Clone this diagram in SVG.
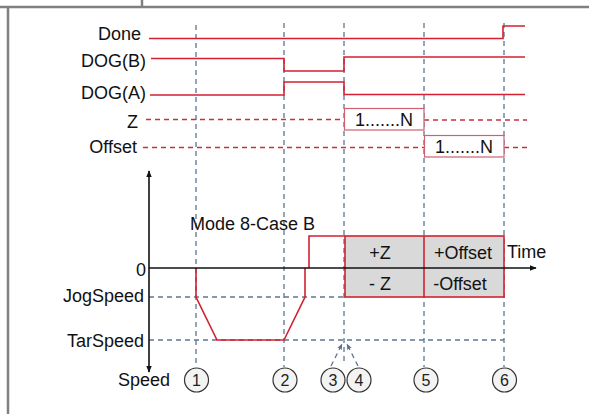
<svg xmlns="http://www.w3.org/2000/svg" width="589" height="414" viewBox="0 0 589 414">
<defs>
<style>
.lbl{font-family:"Liberation Sans",Arial,sans-serif;font-size:18px;fill:#111}
.num{font-family:"Liberation Sans",Arial,sans-serif;font-size:16px;fill:#222;text-anchor:middle}
.frame{stroke:#808080;stroke-width:2.5;fill:none}
.grid{stroke:#5f7590;stroke-width:1.3;stroke-dasharray:5 4;fill:none}
.sig{stroke:#d42030;stroke-width:1.6;fill:none}
.sigd{stroke:#c8303a;stroke-width:1.4;stroke-dasharray:5 4;fill:none}
.ax{stroke:#111;stroke-width:1.6;fill:none}
.circ{fill:#f3f3f3;stroke:#333;stroke-width:1.2}
.nbox{fill:#fff;stroke:#d06070;stroke-width:1.2}
</style>
<marker id="ah" viewBox="0 0 10 10" refX="9" refY="5" markerWidth="7" markerHeight="7" orient="auto-start-reverse" markerUnits="userSpaceOnUse">
<path d="M0,1 L10,5 L0,9 Z" fill="#111"/>
</marker>
<marker id="ahg" viewBox="0 0 10 10" refX="9" refY="5" markerWidth="6" markerHeight="6" orient="auto" markerUnits="userSpaceOnUse">
<path d="M0,1 L10,5 L0,9 Z" fill="#5f7590"/>
</marker>
</defs>
<rect width="589" height="414" fill="#fff"/>
<g id="frame">
<line class="frame" x1="0" y1="7" x2="589" y2="7"/>
<line class="frame" x1="142" y1="0" x2="142" y2="7"/>
<line class="frame" x1="8" y1="8" x2="8" y2="414"/>
</g>
<g id="connectors">
<line class="grid" x1="196" y1="25" x2="196" y2="367"/>
<line class="grid" x1="284" y1="23" x2="284" y2="367"/>
<line class="grid" x1="344" y1="23" x2="344" y2="364"/>
<line class="grid" x1="424" y1="23" x2="424" y2="367"/>
<line class="grid" x1="504" y1="23" x2="504" y2="367"/>
<line class="grid" x1="149" y1="297" x2="344" y2="297"/>
<line class="grid" x1="149" y1="340" x2="504" y2="340"/>
<line class="grid" x1="331" y1="366" x2="342" y2="344" marker-end="url(#ahg)"/>
<line class="grid" x1="358" y1="366" x2="347" y2="344" marker-end="url(#ahg)"/>
</g>
<g id="signals">
<polyline class="sig" points="149,38.5 503,38.5 503,26 525,26"/>
<polyline class="sig" points="151,58.5 284,58.5 284,71 344,71 344,57 525,57"/>
<polyline class="sig" points="150,95 284,95 284,82 344,82 344,94.5 525,94.5"/>
<line class="sigd" x1="146" y1="119.5" x2="344" y2="119.5"/>
<line class="sigd" x1="424" y1="120" x2="527" y2="120"/>
<line class="sigd" x1="143" y1="147.5" x2="424" y2="147.5"/>
<line class="sigd" x1="504" y1="147.5" x2="527" y2="147.5"/>
</g>
<g id="z-box">
<rect class="nbox" x="344.5" y="108.5" width="79.5" height="21.5"/>
<text class="lbl" x="384" y="126" text-anchor="middle">1.......N</text>
</g>
<g id="offset-box">
<rect class="nbox" x="424.5" y="135.5" width="79.5" height="21.5"/>
<text class="lbl" x="464" y="153" text-anchor="middle">1.......N</text>
</g>
<g id="labels">
<text class="lbl" x="141" y="40" text-anchor="end">Done</text>
<text class="lbl" x="146" y="67" text-anchor="end">DOG(B)</text>
<text class="lbl" x="146" y="99" text-anchor="end">DOG(A)</text>
<text class="lbl" x="138" y="128" text-anchor="end">Z</text>
<text class="lbl" x="137" y="153" text-anchor="end">Offset</text>
<text class="lbl" x="146" y="276" text-anchor="end">0</text>
<text class="lbl" x="144" y="302" text-anchor="end">JogSpeed</text>
<text class="lbl" x="144" y="347" text-anchor="end">TarSpeed</text>
<text class="lbl" x="118" y="386">Speed</text>
<text class="lbl" x="190" y="230">Mode 8-Case B</text>
<text class="lbl" x="507" y="258">Time</text>
</g>
<g id="speed-box">
<rect x="345" y="236" width="159" height="61" fill="#d9d9d9" stroke="#d42030" stroke-width="1.6"/>
<line class="sig" x1="424" y1="236" x2="424" y2="297"/>
<text class="lbl" x="380" y="259" text-anchor="middle">+Z</text>
<text class="lbl" x="380" y="290" text-anchor="middle">- Z</text>
<text class="lbl" x="463" y="259" text-anchor="middle">+Offset</text>
<text class="lbl" x="460" y="290" text-anchor="middle">-Offset</text>
</g>
<g id="profile">
<polyline class="sig" points="196,268 196,297 217,340 284,340 305,297 305,268"/>
<polyline class="sig" points="309,268 309,236 345,236"/>
</g>
<g id="axes">
<line class="ax" x1="149" y1="268" x2="536" y2="268" marker-end="url(#ah)"/>
<line class="ax" x1="149" y1="171" x2="149" y2="372" marker-start="url(#ah)" marker-end="url(#ah)"/>
</g>
<g id="n1"><circle class="circ" cx="196.5" cy="380" r="12"/><text class="num" x="196.5" y="386">1</text></g>
<g id="n2"><circle class="circ" cx="285" cy="380" r="12"/><text class="num" x="285" y="386">2</text></g>
<g id="n3"><circle class="circ" cx="333" cy="380" r="12"/><text class="num" x="333" y="386">3</text></g>
<g id="n4"><circle class="circ" cx="359" cy="380" r="12"/><text class="num" x="359" y="386">4</text></g>
<g id="n5"><circle class="circ" cx="426" cy="380" r="12"/><text class="num" x="426" y="386">5</text></g>
<g id="n6"><circle class="circ" cx="504.5" cy="380" r="12"/><text class="num" x="504.5" y="386">6</text></g>
</svg>
